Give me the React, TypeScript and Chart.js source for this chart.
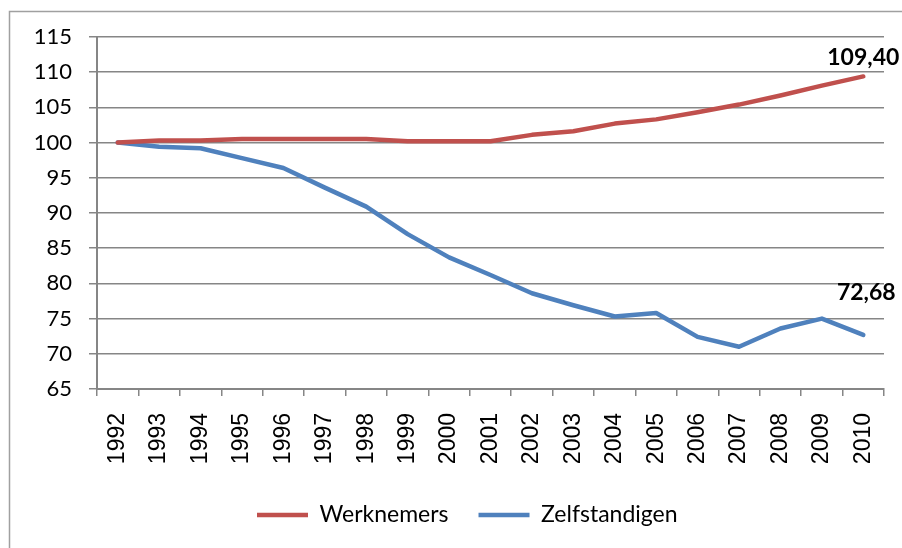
import { useEffect, useRef } from 'react';
import { Chart, registerables } from 'chart.js';

Chart.register(...registerables);

const years = ['1992', '1993', '1994', '1995', '1996', '1997', '1998', '1999', '2000', '2001', '2002', '2003', '2004', '2005', '2006', '2007', '2008', '2009', '2010'];
const werknemers = [100, 100.3, 100.3, 100.5, 100.5, 100.5, 100.5, 100.2, 100.2, 100.2, 101.1, 101.6, 102.7, 103.3, 104.3, 105.4, 106.7, 108.1, 109.4];
const zelfstandigen = [100, 99.4, 99.2, 97.8, 96.4, 93.6, 90.9, 87.0, 83.7, 81.2, 78.6, 76.9, 75.3, 75.8, 72.4, 71.0, 73.6, 75.0, 72.68];
const yMin = 65;
const yMax = 115;
const yStep = 5;

const FONT = 'Lato, "Open Sans", sans-serif';

const framePlugin = {
  id: 'frame',
  beforeDraw(chart: any) {
    const ctx = chart.ctx;
    ctx.save();
    ctx.fillStyle = '#ffffff';
    ctx.fillRect(0, 0, chart.width, chart.height);
    ctx.strokeStyle = '#a0a0a0';
    ctx.lineWidth = 1.5;
    ctx.strokeRect(9.5, 11.5, 1200, 1200);
    ctx.restore();
    const lg = chart.legend;
    if (lg && !lg._shifted && lg.legendHitBoxes && lg.legendHitBoxes.length) {
      const hb = lg.legendHitBoxes[0];
      const dx = 257 - hb.left;
      const dy = 515 - (hb.top + hb.height / 2);
      lg.left += dx;
      lg.right += dx;
      lg.top += dy;
      lg.bottom += dy;
      lg._shifted = true;
    }
  },
  afterLayout(chart: any) {
    if (chart.legend) chart.legend._shifted = false;
  },
};

const lastLabelPlugin = {
  id: 'lastLabel',
  afterDatasetsDraw(chart: any) {
    const ctx = chart.ctx;
    chart.data.datasets.forEach((ds: any, i: number) => {
      const meta = chart.getDatasetMeta(i);
      const n = ds.data.length - 1;
      const pt = meta.data[n];
      if (!pt) return;
      const v = ds.data[n];
      const txt = v.toFixed(2).replace('.', ',');
      ctx.save();
      ctx.font = `bold 23px ${FONT}`;
      ctx.fillStyle = '#000000';
      ctx.textAlign = 'center';
      ctx.textBaseline = 'middle';
      ctx.fillText(txt, pt.x + (ds.labelDx || 0), pt.y - (ds.labelDy || 0));
      ctx.restore();
    });
  },
};

export default function App() {
  const ref = useRef<HTMLCanvasElement>(null);

  useEffect(() => {
    if (!ref.current) return;
    const chart = new Chart(ref.current, {
      type: 'line',
      data: {
        labels: years,
        datasets: [
          {
            label: 'Werknemers',
            data: werknemers,
            borderColor: '#C0504D',
            backgroundColor: '#C0504D',
            borderWidth: 4.5,
            pointRadius: 0,
            pointHoverRadius: 0,
            borderCapStyle: 'round',
            borderJoinStyle: 'round',
            tension: 0,
            labelDx: 0,
            labelDy: 19,
          } as any,
          {
            label: 'Zelfstandigen',
            data: zelfstandigen,
            borderColor: '#4F81BD',
            backgroundColor: '#4F81BD',
            borderWidth: 4.5,
            pointRadius: 0,
            pointHoverRadius: 0,
            borderCapStyle: 'round',
            borderJoinStyle: 'round',
            tension: 0,
            labelDx: 3,
            labelDy: 42,
          } as any,
        ],
      },
      options: {
        responsive: false,
        animation: false,
        events: [],
        layout: { padding: { left: 0, top: 37, right: 18, bottom: 0 } },
        plugins: {
          legend: {
            position: 'bottom',
            labels: {
              usePointStyle: true,
              pointStyle: 'line',
              pointStyleWidth: 51,
              boxHeight: 22,
              padding: 30,
              color: '#000000',
              font: { family: FONT, size: 23 },
            },
          },
          tooltip: { enabled: false },
        },
        scales: {
          x: {
            offset: true,
            grid: {
              offset: true,
              drawOnChartArea: false,
              drawTicks: true,
              tickLength: 7,
              color: '#868686',
              lineWidth: 1.5,
            },
            border: { display: true, color: '#868686', width: 2 },
            ticks: {
              autoSkip: false,
              minRotation: 90,
              maxRotation: 90,
              padding: 17,
              color: '#000000',
              font: { family: '"Liberation Sans", Arial, sans-serif', size: 23 },
            },
            afterFit(scale: any) {
              const lgH = scale.chart.legend ? scale.chart.legend.height : 0;
              scale.height = Math.max(10, 548 - lgH - 389);
              scale.paddingLeft = 0;
              scale.paddingRight = 0;
            },
          },
          y: {
            min: yMin,
            max: yMax,
            ticks: {
              stepSize: yStep,
              padding: 17,
              color: '#000000',
              font: { family: FONT, size: 22 },
            },
            grid: {
              color: '#868686',
              lineWidth: 1.5,
              tickLength: 8,
              drawTicks: true,
            },
            border: { display: true, color: '#868686', width: 2 },
            afterFit(scale: any) {
              scale.width = 97;
            },
          },
        },
      },
      plugins: [framePlugin, lastLabelPlugin],
    });
    return () => chart.destroy();
  }, []);

  return (
    <div style={{ position: 'absolute', left: 0, top: 0, width: 902, height: 548 }}>
      <canvas ref={ref} width={902} height={548} />
    </div>
  );
}
